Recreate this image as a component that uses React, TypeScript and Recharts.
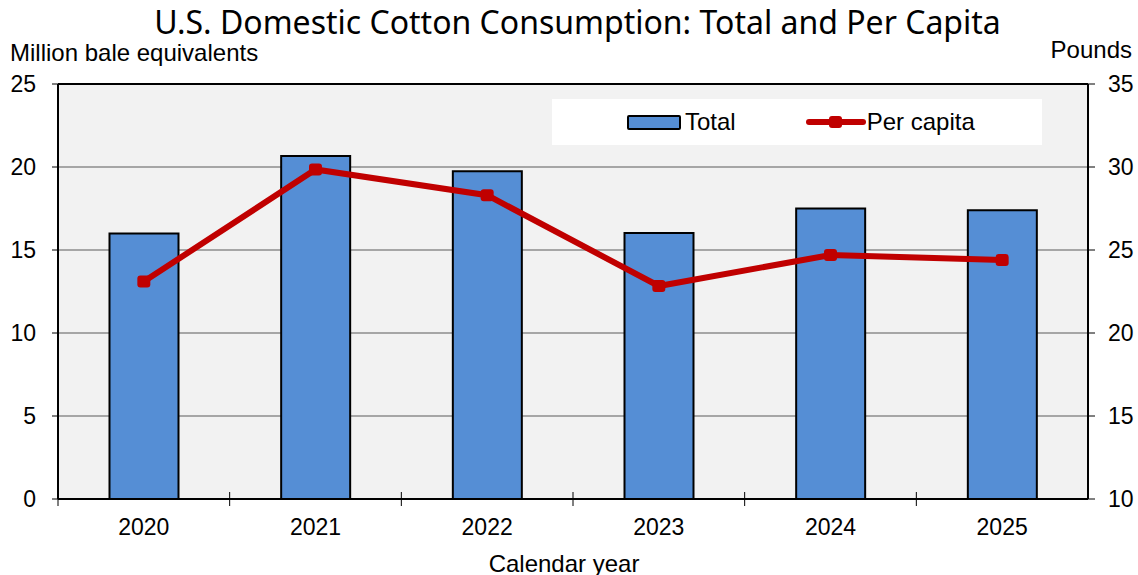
import React from "react";
import {
  ComposedChart,
  Bar,
  Line,
  XAxis,
  YAxis,
  CartesianGrid,
  ReferenceLine,
} from "recharts";

const years = ["2020", "2021", "2022", "2023", "2024", "2025"];
const totalValues = [16.0, 20.67, 19.75, 16.03, 17.5, 17.4];
const perCapitaValues = [23.1, 29.85, 28.3, 22.83, 24.7, 24.4];
const leftTicks = [0, 5, 10, 15, 20, 25];
const rightTicks = [10, 15, 20, 25, 30, 35];

const data = years.map((y, i) => ({
  year: y,
  total: totalValues[i],
  perCapita: perCapitaValues[i],
}));

const FONT = "'Liberation Sans', Arial, sans-serif";
const TICK_FS = 23;

const XTick = (props: any) => {
  const { x, y, payload } = props;
  const off = payload && payload.offset ? payload.offset : 0;
  const axisY = y - 20;
  return (
    <g>
      <line x1={x - off} x2={x - off} y1={axisY - 7} y2={axisY + 7} stroke="#000" strokeWidth={1} />
      <text x={x} y={y} dy="0.71em" textAnchor="middle" fontSize={TICK_FS} fontFamily={FONT} fill="#000">
        {payload.value}
      </text>
    </g>
  );
};

const LegendBox = () => (
  <div
    style={{
      position: "absolute",
      left: 552,
      top: 99,
      width: 490,
      height: 46,
      background: "#fff",
      display: "flex",
      alignItems: "center",
      fontFamily: FONT,
      fontSize: 24,
      color: "#000",
    }}
  >
    <div style={{ marginLeft: 75, display: "flex", alignItems: "center" }}>
      <div style={{ width: 50, height: 11, background: "#558ed5", border: "2px solid #000", borderRadius: 2 }} />
      <span style={{ marginLeft: 4 }}>Total</span>
    </div>
    <div style={{ marginLeft: 70, display: "flex", alignItems: "center" }}>
      <svg width={60} height={14}>
        <line x1={3} x2={57} y1={7} y2={7} stroke="#c00000" strokeWidth={6} strokeLinecap="round" />
        <rect x={23} y={1} width={13} height={12} rx={3} fill="#c00000" />
      </svg>
      <span style={{ marginLeft: 1 }}>Per capita</span>
    </div>
  </div>
);

const Dot = (props: any) => {
  const { cx, cy } = props;
  if (cx == null || cy == null) return null;
  return <rect x={cx - 6.5} y={cy - 6} width={13} height={12} rx={3} fill="#c00000" />;
};

export default function App() {
  return (
    <div style={{ position: "absolute", left: 0, top: 0, width: 1138, height: 575, background: "#fff" }}>
      <div style={{ position: "absolute", left: 0, top: 0 }}>
        <ComposedChart
          width={1138}
          height={575}
          data={data}
          margin={{ top: 84, right: 5, bottom: 36, left: 8 }}
          barCategoryGap="30%"
        >
          <CartesianGrid
            vertical={false}
            fill="#f2f2f2"
            stroke="#8c8c8c"
            strokeWidth={1.5}
            yAxisId="left"
          />
          <XAxis
            dataKey="year"
            height={40}
            tickLine={false}
            tickSize={0}
            tickMargin={20}
            axisLine={{ stroke: "#000", strokeWidth: 2 }}
            tick={<XTick />}
            interval={0}
          />
          <YAxis
            yAxisId="left"
            orientation="left"
            width={50}
            domain={[0, 25]}
            ticks={leftTicks}
            tickSize={6}
            tickMargin={16}
            axisLine={{ stroke: "#000", strokeWidth: 2 }}
            tickLine={{ stroke: "#000" }}
            tick={{ fontSize: TICK_FS, fontFamily: FONT, fill: "#000" }}
            interval={0}
          />
          <YAxis
            yAxisId="right"
            orientation="right"
            width={45}
            domain={[10, 35]}
            ticks={rightTicks}
            tickSize={7}
            tickMargin={13}
            axisLine={{ stroke: "#000", strokeWidth: 2 }}
            tickLine={{ stroke: "#000" }}
            tick={{ fontSize: TICK_FS, fontFamily: FONT, fill: "#000", textAnchor: "start" }}
            interval={0}
          />
          <ReferenceLine yAxisId="left" y={25} stroke="#000" strokeWidth={2} />
          <Bar
            yAxisId="left"
            dataKey="total"
            name="Total"
            fill="#558ed5"
            stroke="#000"
            strokeWidth={2}
            isAnimationActive={false}
          />
          <Line
            yAxisId="right"
            dataKey="perCapita"
            name="Per capita"
            stroke="#c00000"
            strokeWidth={6}
            dot={<Dot />}
            activeDot={false}
            isAnimationActive={false}
          />
        </ComposedChart>
      </div>
      <LegendBox />
      <div
        style={{
          position: "absolute",
          left: 0,
          width: 1155,
          top: 0,
          textAlign: "center",
          fontFamily: "'Noto Sans', 'Open Sans', sans-serif",
          fontSize: 32,
          lineHeight: "44px",
          color: "#000",
          whiteSpace: "nowrap",
        }}
      >
        U.S. Domestic Cotton Consumption: Total and Per Capita
      </div>
      <div style={{ position: "absolute", left: 10, top: 39, fontFamily: FONT, fontSize: 24, lineHeight: "28px" }}>
        Million bale equivalents
      </div>
      <div style={{ position: "absolute", right: 6, top: 36, fontFamily: FONT, fontSize: 24, lineHeight: "28px" }}>
        Pounds
      </div>
      <div
        style={{
          position: "absolute",
          left: 0,
          width: 1128,
          top: 550,
          textAlign: "center",
          fontFamily: FONT,
          fontSize: 24,
          lineHeight: "28px",
        }}
      >
        Calendar year
      </div>
    </div>
  );
}
